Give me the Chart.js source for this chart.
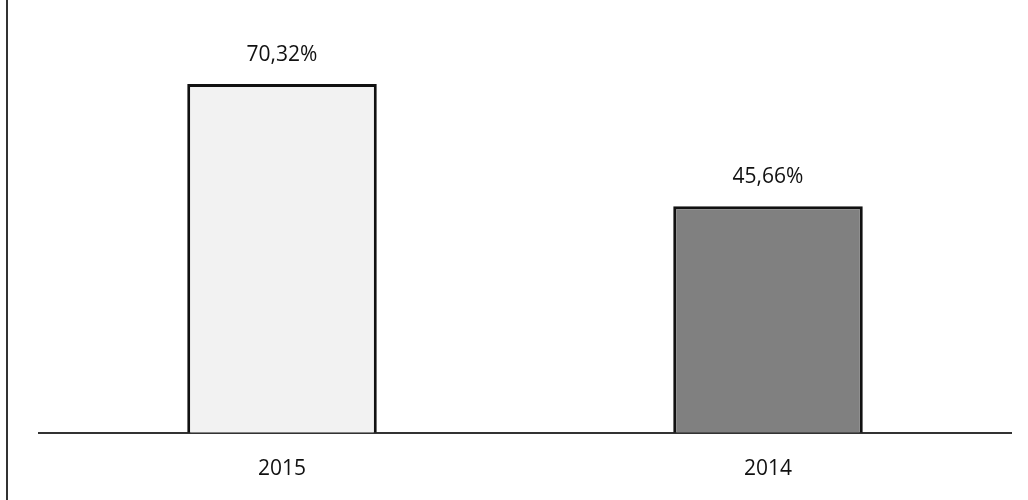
<!DOCTYPE html>
<html>
<head>
<meta charset="utf-8">
<script src="https://cdn.jsdelivr.net/npm/chart.js@4"></script>
<style>
  html, body { margin: 0; padding: 0; background: #fff; }
  #wrap { position: relative; width: 1028px; height: 500px; }
  #edge { position: absolute; left: 6px; top: 0; width: 2px; height: 500px; background: #333; }
</style>
</head>
<body>
<div id="wrap">
  <canvas id="barChart" width="1028" height="500"></canvas>
  <div id="edge"></div>
</div>
<script>
const years = ['2015', '2014'];
const shares = [70.32, 45.66];
const barColors = ['#f2f2f2', '#808080'];

const fontFamily = '"Open Sans", Lato, sans-serif';

// labels above the bars, "70,32%" style
const valueLabels = {
    id: 'valueLabels',
    afterDatasetsDraw(chart) {
        const ctx = chart.ctx;
        const meta = chart.getDatasetMeta(0);
        ctx.save();
        ctx.font = '21px ' + fontFamily;
        ctx.fillStyle = '#111';
        ctx.textAlign = 'center';
        ctx.textBaseline = 'middle';
        meta.data.forEach((bar, i) => {
            const txt = shares[i].toFixed(2).replace('.', ',') + '%';
            ctx.fillText(txt, bar.x, bar.y - 29);
        });
        ctx.restore();
    }
};

new Chart(document.getElementById('barChart'), {
    type: 'bar',
    data: {
        labels: years,
        datasets: [{
            data: shares,
            backgroundColor: barColors,
            borderColor: '#111',
            borderWidth: 3,
            borderSkipped: 'bottom',
            barPercentage: 0.39,
            categoryPercentage: 1
        }]
    },
    options: {
        responsive: false,
        animation: false,
        layout: { padding: { left: 39, right: 17, top: 36, bottom: 2 } },
        plugins: { legend: { display: false }, tooltip: { enabled: false } },
        scales: {
            y: { display: false, min: 0, max: 80 },
            x: {
                grid: { display: false },
                border: { display: true, color: '#333', width: 2 },
                ticks: { color: '#111', font: { size: 21, family: fontFamily }, padding: 16 }
            }
        }
    },
    plugins: [valueLabels]
});
</script>
</body>
</html>
